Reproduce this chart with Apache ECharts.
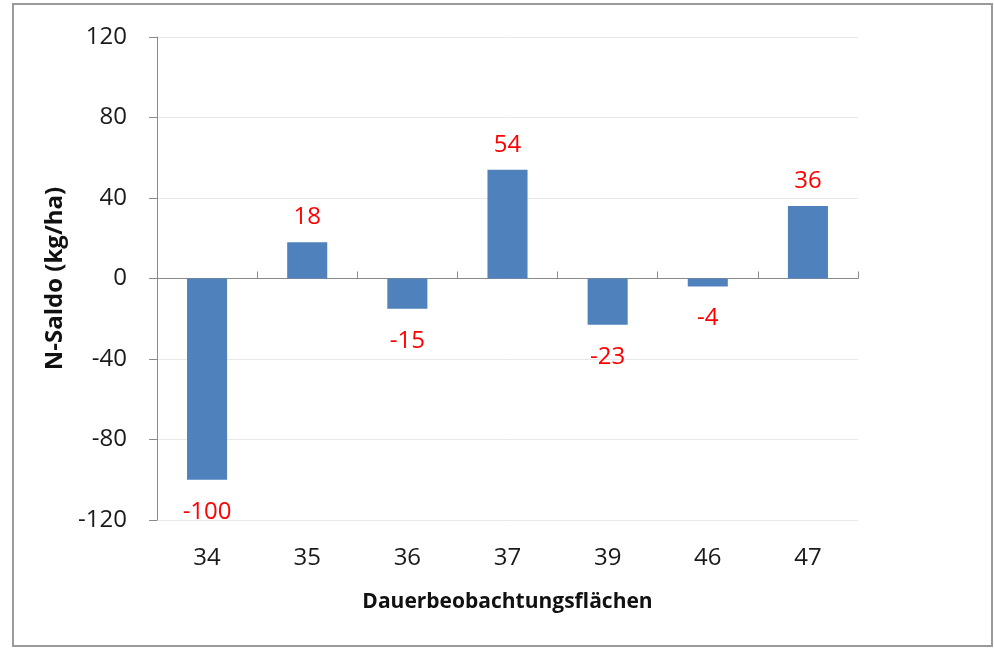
<!DOCTYPE html>
<html>
<head>
<meta charset="utf-8">
<script src="https://cdn.jsdelivr.net/npm/echarts@6/dist/echarts.min.js"></script>
<style>
  html, body { margin: 0; padding: 0; background: #fff; }
  #chart { width: 994px; height: 648px; }
</style>
</head>
<body>
<div id="chart"></div>
<script>
// Daten
const flaechen = ['34', '35', '36', '37', '39', '46', '47'];
const nSaldo = [-100, 18, -15, 54, -23, -4, 36];
const yMin = -120, yMax = 120, yStep = 40;

const font = '"Open Sans", "Liberation Sans", sans-serif';

const chart = echarts.init(document.getElementById('chart'));
chart.setOption({
  animation: false,
  backgroundColor: '#fff',
  textStyle: { fontFamily: font },
  graphic: [{
    type: 'rect',
    shape: { x: 13, y: 4, width: 979, height: 642 },
    style: { fill: 'none', stroke: '#9a9a9a', lineWidth: 2 }
  }],
  grid: { left: 157, right: 136, top: 37, bottom: 128 },
  xAxis: [{
    // Beschriftung unten
    type: 'category',
    data: flaechen,
    position: 'bottom',
    axisLine: { show: false, onZero: false },
    axisTick: { show: false },
    axisLabel: { fontSize: 24, color: '#1a1a1a', margin: 26 },
    name: 'Dauerbeobachtungsflächen',
    nameLocation: 'middle',
    nameGap: 72,
    nameTextStyle: { fontSize: 21, fontWeight: 'bold', color: '#111' }
  }, {
    // Nulllinie mit Teilstrichen
    type: 'category',
    data: flaechen,
    axisLine: { show: true, onZero: true, lineStyle: { color: '#8a8a8a', width: 1 } },
    axisTick: { show: true, inside: false, length: 7, alignWithLabel: false, lineStyle: { color: '#8a8a8a' } },
    axisLabel: { show: false }
  }],
  yAxis: {
    type: 'value',
    min: yMin,
    max: yMax,
    interval: yStep,
    axisLine: { show: true, lineStyle: { color: '#8a8a8a' } },
    axisTick: { show: true, length: 8, lineStyle: { color: '#8a8a8a' } },
    axisLabel: { fontSize: 24, color: '#1a1a1a', margin: 30 },
    splitLine: { lineStyle: { color: '#e8e8e8', width: 1 } },
    name: 'N-Saldo (kg/ha)',
    nameLocation: 'middle',
    nameGap: 80,
    nameTextStyle: { fontSize: 24, fontWeight: 'bold', color: '#111' }
  },
  series: [{
    type: 'bar',
    xAxisIndex: 0,
    barCategoryGap: '60%',
    itemStyle: { color: '#4f81bd' },
    data: nSaldo.map(v => ({
      value: v,
      label: v < 0 ? { position: 'bottom', distance: 20 } : { position: 'top', distance: 13 }
    })),
    label: {
      show: true,
      fontSize: 24,
      color: '#ff0000'
    }
  }]
});
</script>
</body>
</html>
